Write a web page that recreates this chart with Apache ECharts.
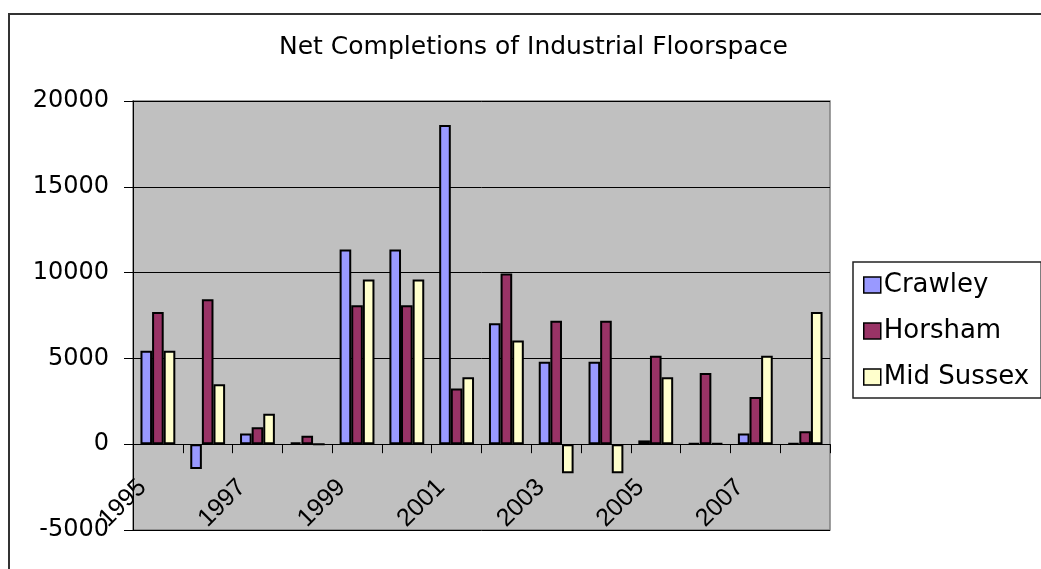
<!DOCTYPE html>
<html>
<head>
<meta charset="utf-8">
<script src="https://cdn.jsdelivr.net/npm/echarts@6/dist/echarts.min.js"></script>
<style>
html,body{margin:0;padding:0;background:#fff;}
#chart{width:1041px;height:569px;}
</style>
</head>
<body>
<div id="chart"></div>
<script>
const years = ['1995','1996','1997','1998','1999','2000','2001','2002','2003','2004','2005','2006','2007','2008'];
const crawley = [5450, -1450, 620, 100, 11350, 11350, 18600, 7050, 4800, 4800, 220, 60, 620, 60];
const horsham = [7700, 8450, 990, 490, 8100, 8100, 3250, 9950, 7200, 7200, 5150, 4150, 2750, 750];
const midSussex = [5450, 3500, 1770, 0, 9600, 9600, 3900, 6050, -1700, -1700, 3900, 60, 5150, 7700];
const seriesNames = ['Crawley', 'Horsham', 'Mid Sussex'];
const colors = ['#9999FF', '#993366', '#FFFFCC'];

const chart = echarts.init(document.getElementById('chart'), null, {renderer: 'canvas'});
const mkSeries = (name, data, color) => ({
  name: name,
  type: 'bar',
  data: data,
  barGap: '0%',
  barCategoryGap: '30%',
  itemStyle: {color: color, borderColor: '#000', borderWidth: 2},
  emphasis: {disabled: true}
});
chart.setOption({
  animation: false,
  backgroundColor: '#fff',
  title: {
    text: 'Net Completions of Industrial Floorspace',
    left: 279,
    top: 35,
    padding: 0,
    textStyle: {fontFamily: 'DejaVu Sans', fontSize: 25, fontWeight: 'normal', color: '#000'}
  },
  legend: {
    orient: 'vertical',
    left: 853,
    top: 262,
    padding: [10, 12, 8, 10],
    icon: 'rect',
    itemWidth: 17,
    itemHeight: 16,
    itemGap: 20,
    borderColor: '#222',
    borderWidth: 1.5,
    backgroundColor: '#fff',
    data: seriesNames.map((n, i) => ({name: n, itemStyle: {color: colors[i], borderColor: '#000', borderWidth: 1.5}})),
    textStyle: {fontFamily: 'DejaVu Sans', fontSize: 26, color: '#000', lineHeight: 26, padding: [0, 0, 0, -2]}
  },
  grid: {
    left: 133, right: 211, top: 101, bottom: 39,
    containLabel: false,
    outerBoundsMode: 'none',
    show: true,
    backgroundColor: '#C0C0C0',
    borderColor: '#808080',
    borderWidth: 1.5
  },
  xAxis: {
    type: 'category',
    data: years,
    axisLine: {onZero: true, lineStyle: {color: '#000', width: 1}},
    axisTick: {show: true, interval: 0, length: 9, lineStyle: {color: '#000'}},
    axisLabel: {interval: 1, rotate: 45, margin: -62, padding: [0, 22, 0, 0], fontFamily: 'Liberation Sans', fontSize: 25, color: '#000'},
    splitLine: {show: false}
  },
  yAxis: {
    type: 'value',
    min: -5000,
    max: 20000,
    interval: 5000,
    axisLine: {show: true, lineStyle: {color: '#000', width: 1}},
    axisTick: {show: true, length: 9, lineStyle: {color: '#000'}},
    axisLabel: {margin: 24, fontFamily: 'DejaVu Sans', fontSize: 24, color: '#000', formatter: v => String(v)},
    splitLine: {show: true, lineStyle: {color: '#000', width: 1}}
  },
  graphic: [{
    type: 'rect',
    shape: {x: 9, y: 14, width: 1100, height: 600},
    style: {fill: 'none', stroke: '#333', lineWidth: 2},
    silent: true,
    z: 100
  }],
  series: [
    mkSeries(seriesNames[0], crawley, colors[0]),
    mkSeries(seriesNames[1], horsham, colors[1]),
    mkSeries(seriesNames[2], midSussex, colors[2])
  ]
});
</script>
</body>
</html>
